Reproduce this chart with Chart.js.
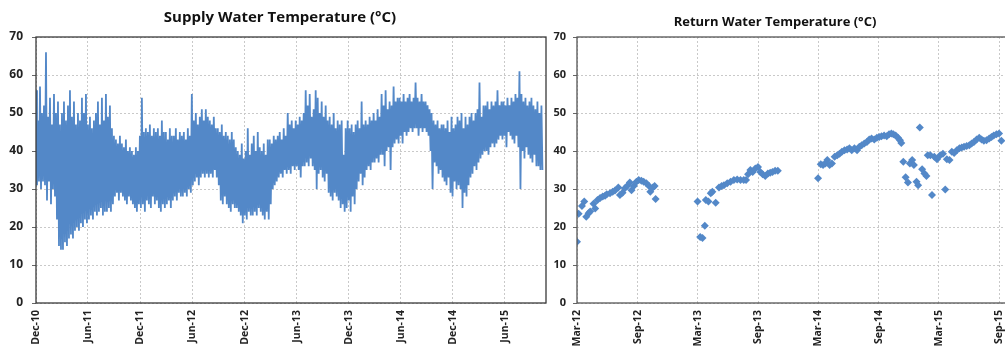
<!DOCTYPE html>
<html>
<head>
<meta charset="utf-8">
<script src="https://cdn.jsdelivr.net/npm/chart.js@4.4.1/dist/chart.umd.min.js"></script>
<style>
  html, body { margin: 0; padding: 0; background: #fff; overflow: hidden; }
  body { width: 1005px; height: 349px; position: relative; }
  #supplyBox { position: absolute; left: 0; top: 0; }
  #returnBox { position: absolute; left: 540px; top: 0; }
</style>
</head>
<body>
<div id="supplyBox"><canvas id="supply" width="560" height="349"></canvas></div>
<div id="returnBox"><canvas id="return" width="470" height="349"></canvas></div>
<script>
// supply water: weekly high / low of the daily trace, weeks counted from 1 Dec 2010
const supplyStart = Date.UTC(2010, 11, 1);
const supplyHigh = [
  56,48,57,50, 52,66,49,54,47, 55,50,53,47, 50,53,48,52, 56,49,53,47,50, 48,54,50,55,
  47,49,46,48, 50,53,47,54,48, 55,49,52,46, 44,43,42,44, 42,41,43,40,41, 40,39,41,40,
  44,54,45,46, 45,47,44,46,45, 46,44,48,45, 45,43,46,44, 44,46,43,45,44, 45,43,46,44,
  55,48,50,47, 49,51,48,51,49, 48,47,49,46, 46,45,47,44, 45,44,43,45,43, 41,40,39,42,
  38,40,46,39, 42,44,40,45,41, 40,42,39,43, 43,42,44,43, 44,45,43,46,44, 50,47,48,46,
  48,47,49,48, 50,56,52,55,49, 51,56,54,50, 53,49,52,48, 49,47,50,46,48, 47,48,39,46,
  48,46,47,45, 47,48,46,53,47, 48,47,49,48, 50,48,51,49, 55,52,56,51,53, 52,57,53,54,
  54,53,55,53, 54,55,53,54,58, 54,53,55,53, 53,52,51,50, 48,47,48,46,47, 47,46,48,45,
  49,46,47,49, 48,50,46,49,47, 49,50,48,50, 51,58,49,52, 52,53,51,53,52, 53,56,52,53,
  53,52,54,52, 54,53,55,54,61, 55,53,54,52, 53,54,52,51, 53,50,52
];
const supplyLow = [
  31,32,30,32, 31,27,32,26,30, 28,22,15,14, 14,16,15,17, 18,17,19,20,19, 21,20,22,21,
  22,23,22,24, 23,24,25,23,24, 24,25,24,26, 28,29,27,29, 28,27,26,28,27, 26,25,24,26,
  25,26,24,27, 26,25,28,26,27, 25,24,26,25, 26,27,25,27, 28,27,29,28,28, 29,28,30,29,
  31,32,33,31, 33,34,33,34,33, 34,33,35,33, 31,27,26,28, 26,25,24,26,25, 25,24,23,21,
  23,22,24,23, 23,24,23,25,24, 23,22,24,22, 26,30,31,32, 33,34,33,35,34, 35,34,36,35,
  36,35,33,36, 36,37,36,38,36, 35,30,34,35, 33,32,34,29, 28,27,29,28,27, 25,26,24,25,
  27,24,28,26, 30,32,34,31,33, 35,36,35,37, 37,38,37,39, 39,36,40,41,35, 41,42,43,42,
  44,42,45,44, 45,46,45,46,46, 44,46,45,46, 45,44,40,30, 37,36,34,35,33, 32,31,33,29,
  28,32,30,31, 30,25,29,28,31, 33,34,36,35, 37,38,39,40, 40,39,41,42,41, 42,43,44,43,
  44,41,45,44, 43,42,44,41,30, 40,38,41,39, 38,37,39,36, 36,35,35
];
const supplyTicks = ['Dec-10','Jun-11','Dec-11','Jun-12','Dec-12','Jun-13','Dec-13','Jun-14','Dec-14','Jun-15'];

// return water: sample day (days after 1 Mar 2012) and temperature
const returnStart = Date.UTC(2012, 2, 1);
const returnDay = [
  0,5,15,22,28,35,40,50,55,62,70,78,85,90,100,108,115,125,130,138,145,152,160,165,172,180,187,195,202,210,218,222,230,235,238,
  365,373,380,387,390,398,405,410,420,430,438,445,455,465,475,485,495,505,512,518,525,532,540,548,555,562,570,578,585,592,600,608,
  730,738,745,752,758,765,772,780,788,795,802,810,818,825,832,840,848,855,862,870,878,885,892,900,908,915,922,930,938,945,952,958,965,972,978,982,
  988,995,1002,1008,1015,1020,1028,1033,1038,1045,1052,1058,1062,1070,1075,1082,1090,1100,1108,1115,1120,1128,
  1135,1142,1150,1158,1165,1172,1180,1188,1195,1202,1210,1218,1225,1232,1240,1248,1255,1262,1270,1278,1285
];
const returnTemp = [
  16.1,23.5,25.5,26.7,22.7,23.6,24.1,26.1,24.9,27.1,27.6,28,28.2,28.6,28.9,29.3,29.6,30.4,28.4,29,30.2,30.8,31.7,29.7,30.8,31.9,32.4,32.2,31.9,31.5,30.8,29.3,30.4,30.8,27.4,
  26.7,17.4,17.1,20.3,27.1,26.7,28.9,29.3,26.4,30.4,30.8,31,31.5,31.9,32.4,32.5,32.4,32.4,32.4,33.9,35,34.5,35.4,35.8,34.5,33.9,33.4,34.1,34.3,34.5,34.8,34.8,
  32.8,36.5,36.3,36.7,37.6,36.3,36.7,38.5,38.9,39.3,39.8,40.2,40.4,40.7,40.2,40.7,40.2,41.1,41.5,42,42.4,43,43.3,43,43.5,43.7,43.9,44.1,43.9,44.4,44.6,44.4,44.1,43.5,42.8,42.1,
  37.2,33.1,31.7,36.7,37.6,36.3,31.9,31,46.2,35.2,34.1,33.4,38.9,38.9,28.4,38.5,37.8,38.9,39.3,29.9,37.8,37.6,
  39.8,39.5,40.2,40.7,40.9,41.1,41.3,41.5,42,42.4,43,43.5,43,42.7,42.8,43.3,43.7,44.1,44.4,44.6,42.7
];
const returnTicks = ['Mar-12','Sep-12','Mar-13','Sep-13','Mar-14','Sep-14','Mar-15','Sep-15'];

const MONTHS = ['Jan','Feb','Mar','Apr','May','Jun','Jul','Aug','Sep','Oct','Nov','Dec'];
const DAY = 86400000;
function tickDay(label, start) {
  const parts = label.split('-');
  return (Date.UTC(2000 + Number(parts[1]), MONTHS.indexOf(parts[0]), 1) - start) / DAY;
}

const blue = '#5388c8';
const gridColor = '#c9c9c9';
const font = 'Open Sans';

const frame = {
  id: 'frame',
  afterDatasetsDraw(chart, args, opts) {
    const a = chart.chartArea;
    const ctx = chart.ctx;
    ctx.save();
    ctx.strokeStyle = opts.color;
    ctx.lineWidth = opts.width;
    ctx.strokeRect(a.left, a.top, a.right - a.left, a.bottom - a.top);
    ctx.restore();
  }
};

function xScale(labels, start, max, fontSize) {
  const days = labels.map(l => tickDay(l, start));
  return {
    type: 'linear', min: 0, max: max,
    afterBuildTicks: s => { s.ticks = days.map(v => ({ value: v })); },
    // fixed height, and no extra side room for the end labels (the last one is cut like the original)
    afterFit: s => { s.height = 46; s.paddingLeft = 0; s.paddingRight = 0; },
    ticks: {
      autoSkip: false, maxRotation: 90, minRotation: 90, padding: 7,
      color: '#222', font: { family: font, size: fontSize, weight: 'bold' },
      callback: (v, i) => labels[i]
    },
    grid: { color: gridColor, drawTicks: false },
    border: { display: false, dash: [2, 2] }
  };
}

function yScale(width, fontSize, pad) {
  return {
    min: 0, max: 70,
    afterFit: s => { s.width = width; },
    ticks: { stepSize: 10, padding: pad, color: '#222', font: { family: font, size: fontSize, weight: 'bold' } },
    grid: { color: gridColor, tickLength: 4, tickColor: '#666', tickBorderDash: [] },
    border: { display: false, dash: [2, 2] }
  };
}

// empty strip on the right of the supply plot, keeps the title centred like the original
const spacer = {
  position: 'right', display: true,
  afterFit: s => { s.width = 14; },
  ticks: { display: false },
  grid: { display: false, drawTicks: false },
  border: { display: false }
};

// supply: interleave the weekly highs and lows into one trace
const supplyPoints = [];
supplyHigh.forEach((h, i) => {
  supplyPoints.push({ x: i * 7, y: h });
  supplyPoints.push({ x: i * 7 + 3.5, y: supplyLow[i] });
});

new Chart(document.getElementById('supply'), {
  type: 'line',
  data: { datasets: [{ data: supplyPoints, borderColor: blue, borderWidth: 1.8, pointRadius: 0, tension: 0 }] },
  options: {
    responsive: false, animation: false,
    layout: { padding: 0 },
    plugins: {
      legend: { display: false }, tooltip: { enabled: false },
      title: { display: true, text: 'Supply Water Temperature (°C)', color: '#111',
        font: { family: font, size: 15, weight: 'bold', lineHeight: 1.2 }, padding: { top: 9, bottom: 10 } },
      frame: { color: '#3a3a3a', width: 1.3 }
    },
    scales: { x: xScale(supplyTicks, supplyStart, 1787, 10.5), y: yScale(36, 12, 9), pad: spacer }
  },
  plugins: [frame]
});

new Chart(document.getElementById('return'), {
  type: 'scatter',
  data: { datasets: [{
    data: returnDay.map((d, i) => ({ x: d, y: returnTemp[i] })),
    backgroundColor: blue, borderWidth: 0, pointStyle: 'rectRot', pointRadius: 4
  }] },
  options: {
    responsive: false, animation: false,
    layout: { padding: 0 },
    plugins: {
      legend: { display: false }, tooltip: { enabled: false },
      title: { display: true, text: 'Return Water Temperature (°C)', color: '#111',
        font: { family: font, size: 13, weight: 'bold', lineHeight: 1.2 }, padding: { top: 14, bottom: 7.4 } },
      frame: { color: '#555', width: 1.3 }
    },
    scales: { x: xScale(returnTicks, returnStart, 1299, 10.5), y: yScale(37, 11, 7) }
  },
  plugins: [frame]
});
</script>
</body>
</html>
